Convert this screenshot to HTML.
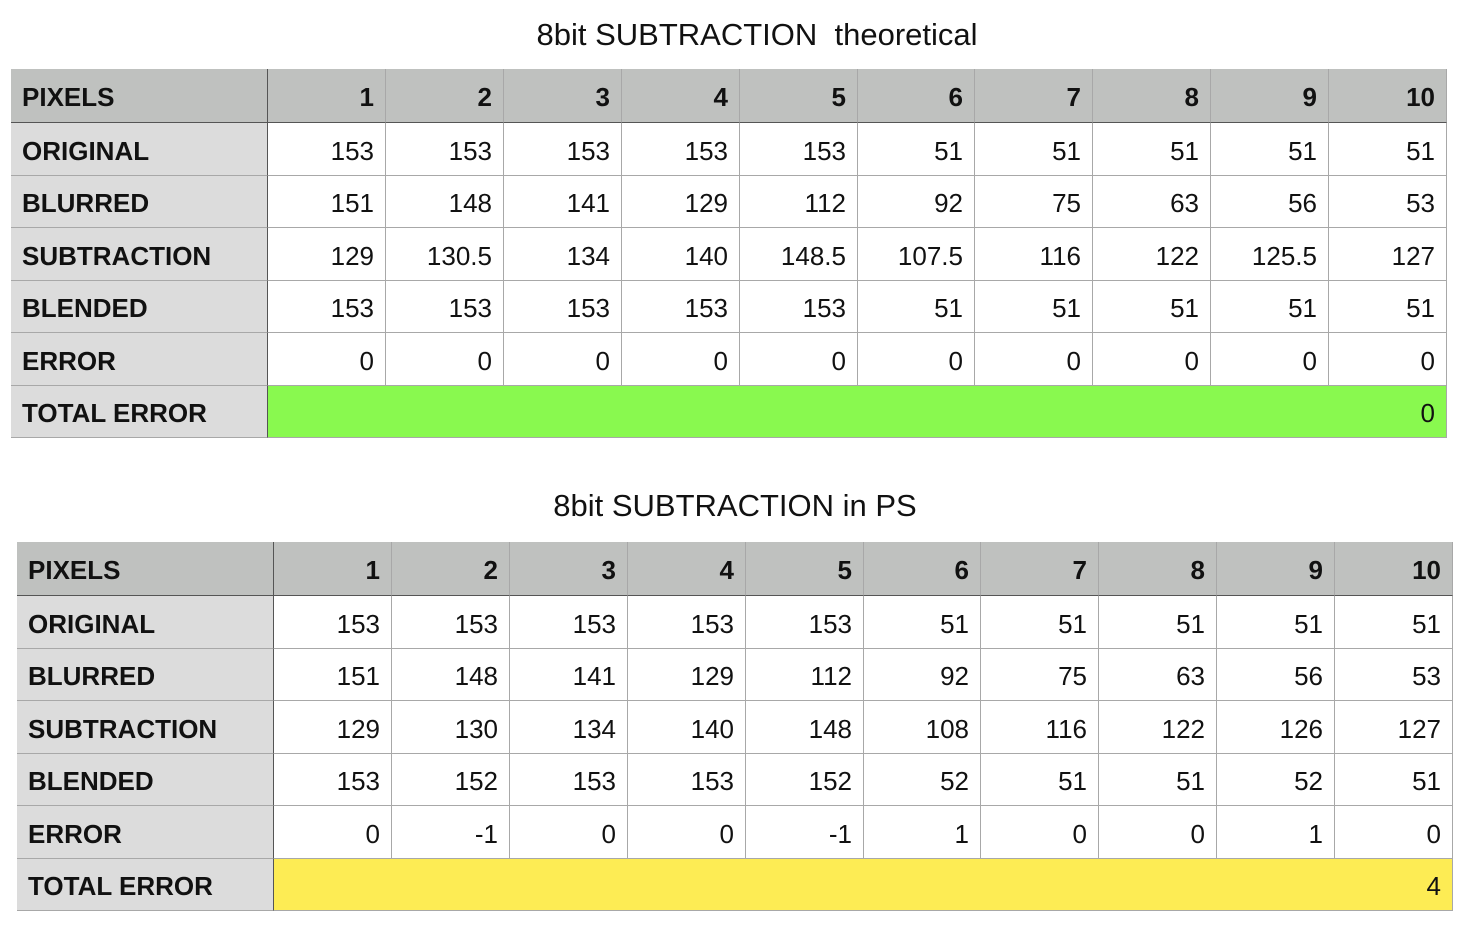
<!DOCTYPE html>
<html><head><meta charset="utf-8">
<style>
body{margin:0;width:1466px;height:930px;background:#fff;font-family:"Liberation Sans",Arial,sans-serif;position:relative;overflow:hidden}
.t{position:absolute;font-size:31px;color:#111;white-space:nowrap;transform:translateX(-50%)}
.c{position:absolute;box-sizing:border-box;border-right:1px solid #a8a8a8;border-bottom:1px solid #a8a8a8;font-size:26px;color:#111;display:flex;align-items:center;padding:4px 11px 0 11px;justify-content:flex-end}
.l{justify-content:flex-start;font-weight:bold;background:#dcdcdc}
.h{background:#bfc1bf;font-weight:bold}
</style></head><body>
<div class="t" style="left:757px;top:17px">8bit SUBTRACTION&nbsp; theoretical</div>
<div class="t" style="left:735px;top:488px">8bit SUBTRACTION in PS</div>
<script>
const rowLabels=["PIXELS","ORIGINAL","BLURRED","SUBTRACTION","BLENDED","ERROR","TOTAL ERROR"];
const pixels=["1","2","3","4","5","6","7","8","9","10"];
const original=["153","153","153","153","153","51","51","51","51","51"];
const blurred=["151","148","141","129","112","92","75","63","56","53"];
const sub1=["129","130.5","134","140","148.5","107.5","116","122","125.5","127"];
const blend1=["153","153","153","153","153","51","51","51","51","51"];
const err1=["0","0","0","0","0","0","0","0","0","0"];
const total1="0";
const sub2=["129","130","134","140","148","108","116","122","126","127"];
const blend2=["153","152","153","153","152","52","51","51","52","51"];
const err2=["0","-1","0","0","-1","1","0","0","1","0"];
const total2="4";
function table(x0,y0,name,rows,total,totalBg){
  const colX=[x0,x0+257];for(let i=1;i<=10;i++)colX.push(x0+257+Math.round(i*117.9));
  const rowY=[y0,y0+54];for(let i=1;i<=6;i++)rowY.push(y0+54+Math.round(i*52.5));
  const wrap=document.createElement('div');
  
  
  wrap.style.cssText=`position:absolute;left:0;top:0`;
  document.body.appendChild(wrap);
  const frame=document.createElement('div');
  
  
  frame.style.cssText=`position:absolute;left:${x0}px;top:${y0}px;width:${colX[11]-x0}px;height:${rowY[7]-y0}px;border-left:1px solid #a8a8a8;border-top:1px solid #a8a8a8;box-sizing:border-box`;
  wrap.appendChild(frame);
  for(let r=0;r<7;r++){
    const vals=r==0?pixels:rows[r-1];
    const lab=document.createElement('div');
    lab.className='c l'+(r==0?' h':'');
    
    
    lab.style.cssText=`left:${colX[0]}px;top:${rowY[r]}px;width:${colX[1]-colX[0]}px;height:${rowY[r+1]-rowY[r]}px;border-right:1px solid #555;${r==0?'border-bottom:1px solid #555;':''}`;
    lab.textContent=rowLabels[r];
    wrap.appendChild(lab);
    if(r==6){
      const t=document.createElement('div');
      t.className='c';
      
      
      t.style.cssText=`left:${colX[1]}px;top:${rowY[r]}px;width:${colX[11]-colX[1]}px;height:${rowY[7]-rowY[6]}px;background:${totalBg}`;
      t.textContent=total;wrap.appendChild(t);continue;
    }
    for(let c=0;c<10;c++){
      const d=document.createElement('div');
      d.className='c'+(r==0?' h':'');
      
      
      d.style.cssText=`left:${colX[c+1]}px;top:${rowY[r]}px;width:${colX[c+2]-colX[c+1]}px;height:${rowY[r+1]-rowY[r]}px;${r==0?'border-bottom:1px solid #555;':''}`;
      d.textContent=vals[c];wrap.appendChild(d);
    }
  }
}
table(11,69,'table-theoretical',[original,blurred,sub1,blend1,err1],total1,'#89f94f');
table(17,542,'table-ps',[original,blurred,sub2,blend2,err2],total2,'#fdec54');
</script>
</body></html>
